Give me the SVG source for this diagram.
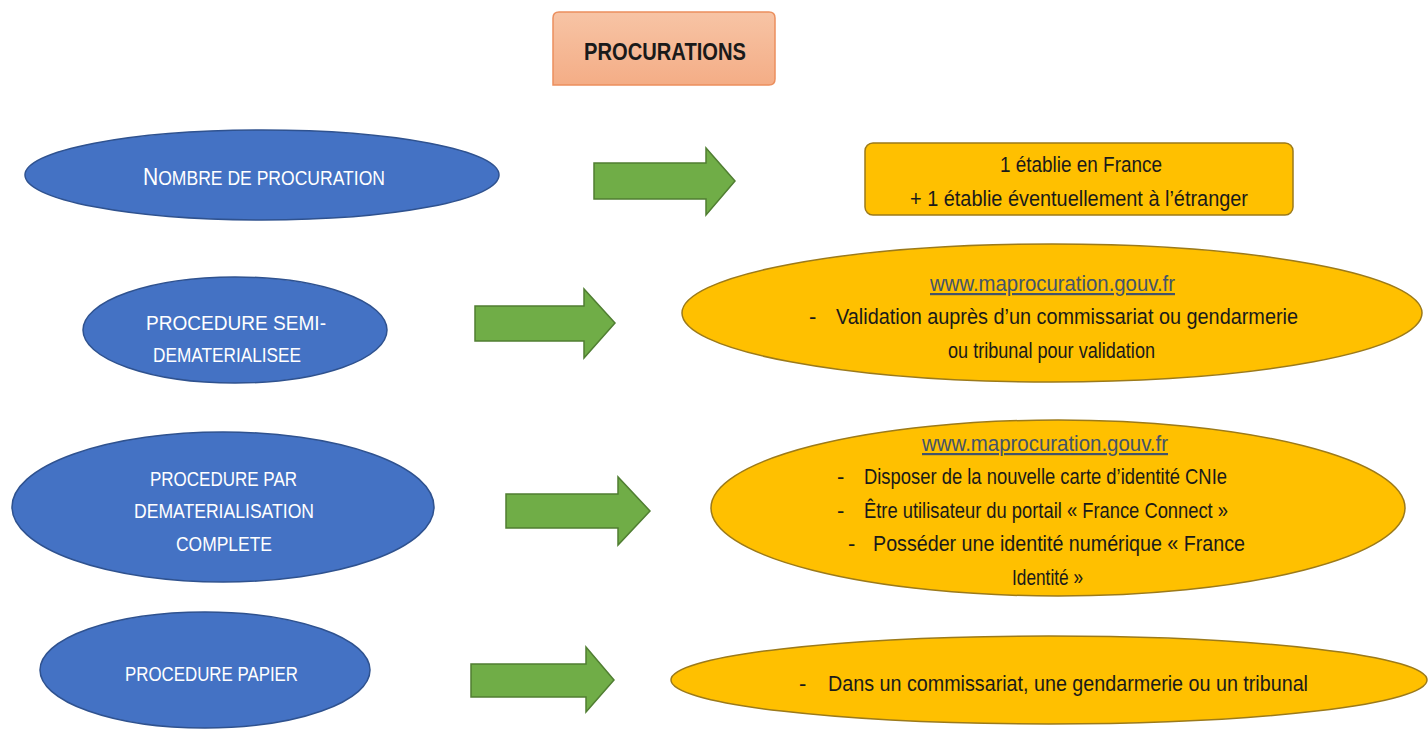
<svg xmlns="http://www.w3.org/2000/svg" width="1428" height="730" viewBox="0 0 1428 730">
<defs>
<linearGradient id="gT" x1="0" y1="0" x2="0" y2="1">
<stop offset="0" stop-color="#F7C4A5"/>
<stop offset="1" stop-color="#F4AD86"/>
</linearGradient>
</defs>
<style>
.blue{fill:#4472C4;stroke:#2F528F;stroke-width:1.5}
.gold{fill:#FFC000;stroke:#9C7A1A;stroke-width:1.5}
.arrow{fill:#70AD47;stroke:#507E32;stroke-width:1.5}
.wt{font-family:"Liberation Sans",Arial,sans-serif;font-size:21px;fill:#FFFFFF}
.dk{font-family:"Liberation Sans",Arial,sans-serif;font-size:22px;fill:#1A1A1A}
.url{font-family:"Liberation Sans",Arial,sans-serif;font-size:22px;fill:#44546A;text-decoration:underline}
.title{font-family:"Liberation Sans",Arial,sans-serif;font-size:23px;font-weight:bold;fill:#1A1A1A}
</style>
<rect width="1428" height="730" fill="#FFFFFF"/>

<g id="title">
<path d="M553,18 Q553,12 559,12 L769,12 Q775,12 775,18 L775,79 Q775,85 769,85 L553,85 Z" fill="url(#gT)" stroke="#EB8F5E" stroke-width="1.5"/>
<text class="title" x="584" y="60" textLength="162" lengthAdjust="spacingAndGlyphs">PROCURATIONS</text>
</g>

<g id="node-nombre">
<ellipse class="blue" cx="262" cy="175" rx="237" ry="45"/>
<text class="wt" x="143" y="185" textLength="242" lengthAdjust="spacingAndGlyphs"><tspan font-size="24">N</tspan><tspan font-size="20">OMBRE DE PROCURATION</tspan></text>
</g>

<g id="result-nombre">
<rect class="gold" x="865" y="143" width="428" height="72" rx="8"/>
<text class="dk" x="1000" y="172" textLength="162" lengthAdjust="spacingAndGlyphs">1 établie en France</text>
<text class="dk" x="910" y="206" textLength="338" lengthAdjust="spacingAndGlyphs">+ 1 établie éventuellement à l’étranger</text>
</g>

<g id="node-semi">
<ellipse class="blue" cx="235" cy="330" rx="152" ry="53"/>
<text class="wt" x="146" y="330" textLength="180" lengthAdjust="spacingAndGlyphs">PROCEDURE SEMI-</text>
<text class="wt" x="153" y="362" textLength="148" lengthAdjust="spacingAndGlyphs">DEMATERIALISEE</text>
</g>

<g id="result-semi">
<ellipse class="gold" cx="1052" cy="313" rx="370" ry="69"/>
<text class="url" x="930" y="291" textLength="245" lengthAdjust="spacingAndGlyphs">www.maprocuration.gouv.fr</text>
<text class="dk" x="809" y="324">-</text>
<text class="dk" x="836" y="324" textLength="462" lengthAdjust="spacingAndGlyphs">Validation auprès d’un commissariat ou gendarmerie</text>
<text class="dk" x="948" y="358" textLength="207" lengthAdjust="spacingAndGlyphs">ou tribunal pour validation</text>
</g>

<g id="node-complete">
<ellipse class="blue" cx="223" cy="507" rx="211" ry="75"/>
<text class="wt" x="150" y="486" textLength="147" lengthAdjust="spacingAndGlyphs">PROCEDURE PAR</text>
<text class="wt" x="134" y="518" textLength="180" lengthAdjust="spacingAndGlyphs">DEMATERIALISATION</text>
<text class="wt" x="176" y="551" textLength="96" lengthAdjust="spacingAndGlyphs">COMPLETE</text>
</g>

<g id="result-complete">
<ellipse class="gold" cx="1058" cy="508" rx="347" ry="88"/>
<text class="url" x="922" y="451" textLength="246" lengthAdjust="spacingAndGlyphs">www.maprocuration.gouv.fr</text>
<text class="dk" x="837" y="484">-</text>
<text class="dk" x="864" y="484" textLength="363" lengthAdjust="spacingAndGlyphs">Disposer de la nouvelle carte d’identité CNIe</text>
<text class="dk" x="837" y="518">-</text>
<text class="dk" x="864" y="518" textLength="364" lengthAdjust="spacingAndGlyphs">Être utilisateur du portail « France Connect »</text>
<text class="dk" x="848" y="551">-</text>
<text class="dk" x="873" y="551" textLength="372" lengthAdjust="spacingAndGlyphs">Posséder une identité numérique « France</text>
<text class="dk" x="1012" y="585" textLength="71" lengthAdjust="spacingAndGlyphs">Identité »</text>
</g>

<g id="node-papier">
<ellipse class="blue" cx="205" cy="670" rx="165" ry="58"/>
<text class="wt" x="125" y="681" textLength="173" lengthAdjust="spacingAndGlyphs">PROCEDURE PAPIER</text>
</g>

<g id="result-papier">
<ellipse class="gold" cx="1049" cy="680" rx="378" ry="44"/>
<text class="dk" x="799" y="691">-</text>
<text class="dk" x="828" y="691" textLength="480" lengthAdjust="spacingAndGlyphs">Dans un commissariat, une gendarmerie ou un tribunal</text>
</g>

<g id="connectors">
<path class="arrow" d="M594,163 L706,163 L706,148 L735,181 L706,215 L706,199 L594,199 Z"/>
<path class="arrow" d="M475,306 L584,306 L584,289 L615,323 L584,358 L584,341 L475,341 Z"/>
<path class="arrow" d="M506,494 L618,494 L618,477 L650,511 L618,545 L618,528 L506,528 Z"/>
<path class="arrow" d="M471,664 L586,664 L586,647 L614,680 L586,712 L586,697 L471,697 Z"/>
</g>
</svg>
